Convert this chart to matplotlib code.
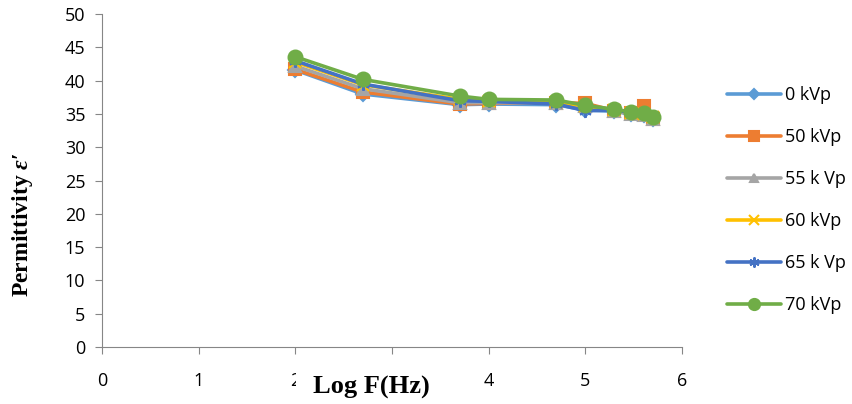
#!/usr/bin/env python
"""
Permittivity vs log frequency for several tube voltages
"""
import matplotlib
matplotlib.use('Agg')
import matplotlib.pyplot as plt

log_f = [2.0, 2.699, 3.699, 4.0, 4.699, 5.0, 5.301, 5.477, 5.602, 5.699]

eps_0 = [41.6, 38.0, 36.4, 36.5, 36.4, 35.6, 35.4, 35.0, 34.9, 34.3]
eps_50 = [41.7, 38.3, 36.5, 36.6, 36.7, 36.6, 35.5, 35.1, 36.2, 34.3]
eps_55 = [42.2, 38.8, 36.7, 36.7, 36.6, 36.2, 35.4, 35.0, 34.8, 34.2]
eps_60 = [42.8, 39.4, 37.2, 37.0, 36.8, 36.2, 35.6, 35.2, 35.0, 34.5]
eps_65 = [43.0, 39.5, 37.0, 36.9, 36.5, 35.5, 35.6, 35.2, 35.0, 34.4]
eps_70 = [43.6, 40.2, 37.7, 37.2, 37.1, 36.3, 35.7, 35.3, 35.2, 34.6]

labels = ['0 kVp', '50 kVp', '55 k Vp', '60 kVp', '65 k Vp', '70 kVp']
series = [eps_0, eps_50, eps_55, eps_60, eps_65, eps_70]
colors = ['#5B9BD5', '#ED7D31', '#A5A5A5', '#FFC000', '#4472C4', '#70AD47']
markers = ['D', 's', '^', 'x', (6, 2, 0), 'o']
msizes = [7, 9, 8, 9, 9, 10]

plt.rcParams['font.family'] = ['Open Sans', 'DejaVu Sans']
plt.rcParams['mathtext.fontset'] = 'custom'
plt.rcParams['mathtext.bfit'] = 'Liberation Serif:italic:bold'
plt.rcParams['mathtext.rm'] = 'Liberation Serif:bold'

fig = plt.figure(figsize=(8.52, 4.04), dpi=100)
ax = fig.add_axes([0.1197, 0.141, 0.6808, 0.824])

for y, lab, c, m, ms in zip(series, labels, colors, markers, msizes):
    ax.plot(log_f, y, color=c, lw=2.6, marker=m, ms=ms, mew=1.5,
            label=lab, solid_capstyle='round')

ax.set_xlim(0, 6)
ax.set_ylim(0, 50)
ax.set_xticks(range(0, 7))
ax.set_yticks(range(0, 51, 5))
for s in ['top', 'right']:
    ax.spines[s].set_visible(False)
for s in ['left', 'bottom']:
    ax.spines[s].set_color('#868686')
ax.tick_params(colors='#868686', labelcolor='black', labelsize=13, length=5)
ax.tick_params(axis='x', pad=13)
ax.tick_params(axis='y', pad=7)

fig.text(0.026, 0.443, "Permittivity $\\mathbfit{\\varepsilon}$\u2032", rotation=90,
         ha='center', va='center', fontsize=17, fontweight='bold',
         family='Liberation Serif')
fig.text(0.436, 0.042, 'Log F(Hz)', ha='center', va='center', fontsize=19,
         fontweight='bold', family='Liberation Serif',
         bbox=dict(facecolor='white', edgecolor='none', pad=12))

ax.legend(loc='upper left', bbox_to_anchor=(0.845, 0.805),
          bbox_transform=fig.transFigure, frameon=False, fontsize=13,
          handlelength=3.0, labelspacing=1.33, handletextpad=0.2,
          borderaxespad=0, markerscale=0.8)

fig.savefig('out.png', dpi=100)
